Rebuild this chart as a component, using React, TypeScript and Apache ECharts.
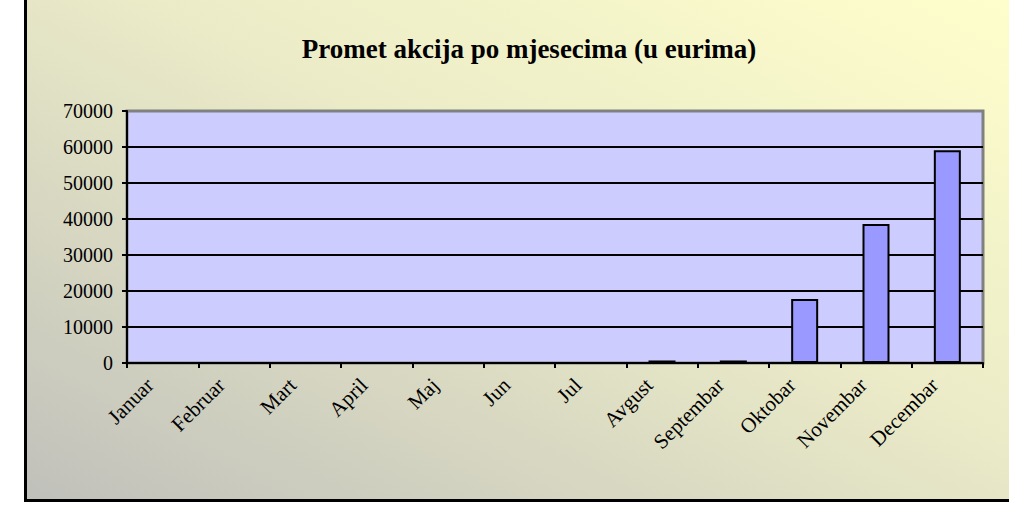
import React, { useEffect, useRef } from "react";
import * as echarts from "echarts";

const months = ["Januar", "Februar", "Mart", "April", "Maj", "Jun", "Jul", "Avgust", "Septembar", "Oktobar", "Novembar", "Decembar"];
const turnover = [0, 0, 0, 0, 0, 0, 0, 700, 700, 17800, 38600, 59100];
const titleText = "Promet akcija po mjesecima (u eurima)";

export default function App() {
  const ref = useRef<HTMLDivElement>(null);
  useEffect(() => {
    if (!ref.current) return;
    const chart = echarts.init(ref.current, null, { renderer: "svg" });
    const serif = "'Liberation Serif', 'Times New Roman', serif";
    chart.setOption({
      animation: false,
      backgroundColor: "#ffffff",
      title: {
        text: titleText,
        left: 524,
        textAlign: "center",
        top: 30,
        textStyle: { fontFamily: serif, fontSize: 27, fontWeight: "bold", color: "#000" },
      },
      graphic: [
        {
          type: "rect",
          z: -10,
          silent: true,
          shape: { x: 25.5, y: -10, width: 1000, height: 510.5 },
          style: {
            fill: new echarts.graphic.LinearGradient(0, 1, 1, 0, [
              { offset: 0, color: "#c0c0bb" },
              { offset: 0.55, color: "#ebebc8" },
              { offset: 1, color: "#ffffcc" },
            ]),
            stroke: "#000",
            lineWidth: 3,
          },
        },
      ],
      grid: {
        left: 127,
        top: 111,
        width: 856,
        height: 252,
        show: true,
        backgroundColor: "#ccccff",
        borderColor: "#808080",
        borderWidth: 3,
        containLabel: false,
      },
      xAxis: {
        type: "category",
        data: months,
        axisLine: { lineStyle: { color: "#000", width: 2 } },
        axisTick: { show: true, length: 5, lineStyle: { color: "#000", width: 2 } },
        axisLabel: {
          rotate: 45,
          interval: 0,
          margin: 6,
          padding: [0, 18, 0, 0],
          fontFamily: serif,
          fontSize: 21,
          color: "#000",
        },
      },
      yAxis: {
        type: "value",
        min: 0,
        max: 70000,
        interval: 10000,
        axisLine: { show: true, lineStyle: { color: "#000", width: 2 } },
        axisTick: { show: true, length: 5, lineStyle: { color: "#000", width: 2 } },
        axisLabel: {
          fontFamily: serif,
          fontSize: 20,
          color: "#000",
          margin: 14,
          formatter: (v: number) => String(v),
        },
        splitLine: { show: true, showMaxLine: false, lineStyle: { color: "#000", width: 2 } },
      },
      series: [
        {
          type: "bar",
          data: turnover,
          barWidth: 27,
          itemStyle: { color: "#9999ff", borderColor: "#000", borderWidth: 2 },
        },
      ],
    });
    return () => chart.dispose();
  }, []);
  return (
    <div
      ref={ref}
      style={{ position: "fixed", left: 0, top: 0, width: 1009, height: 510 }}
    />
  );
}
